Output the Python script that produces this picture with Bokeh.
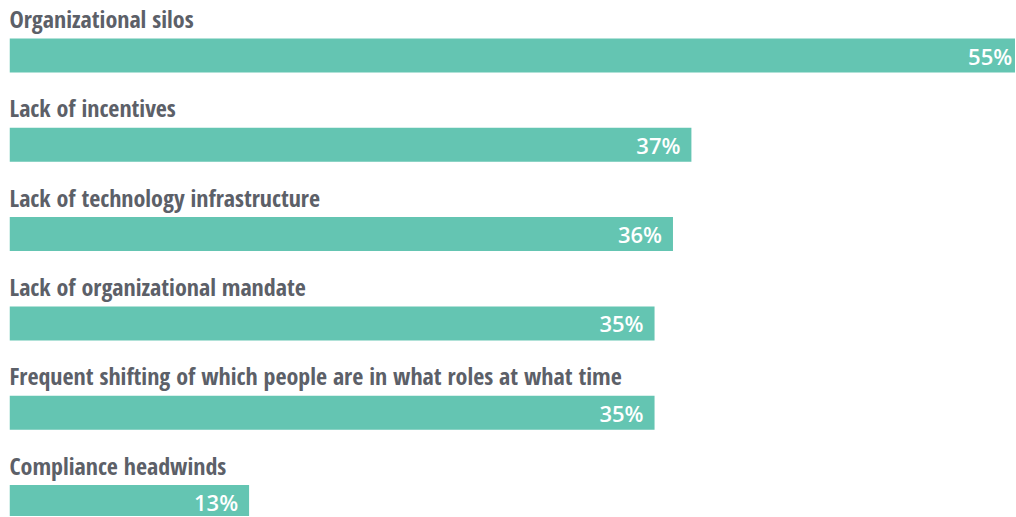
from bokeh.plotting import figure
from bokeh.models import ColumnDataSource, Range1d
from bokeh.core.properties import value
from bokeh.embed import file_html
from bokeh.resources import INLINE

categories = [
    "Organizational silos",
    "Lack of incentives",
    "Lack of technology infrastructure",
    "Lack of organizational mandate",
    "Frequent shifting of which people are in what roles at what time",
    "Compliance headwinds",
]
values = [55, 37, 36, 35, 35, 13]
value_labels = ["55%", "37%", "36%", "35%", "35%", "13%"]

rows = list(range(len(categories)))
source = ColumnDataSource(dict(row=rows, cat=categories, val=values, lab=value_labels))

row_px = 89.3
frame_h = 516
top_off = 55.0 / row_px
x_end = 1006 / 18.43

p = figure(width=1015, height=516, output_backend="svg", toolbar_location=None,
           x_range=Range1d(0, x_end),
           y_range=Range1d(-top_off + frame_h / row_px, -top_off),
           min_border_left=9, min_border_right=0, min_border_top=0, min_border_bottom=0)
p.xaxis.visible = False
p.yaxis.visible = False
p.grid.visible = False
p.outline_line_color = None
p.background_fill_color = "white"
p.border_fill_color = "white"

p.hbar(y="row", left=0, right="val", height=34 / row_px, source=source,
       fill_color="#64c5b2", line_color=None)

label_font = "'Open Sans Condensed', 'Liberation Sans Narrow', 'DejaVu Sans Condensed', 'Roboto Condensed', 'Noto Sans Condensed', Roboto"
p.text(x=0, y="row", text="cat", source=source, y_offset=-37,
       text_font=value(label_font), text_font_style="bold",
       text_font_size="24px", text_color="#5c6068", text_baseline="alphabetic",
       text_align="left")

p.text(x="val", y="row", text="lab", source=source, x_offset=-11, y_offset=0,
       text_font=value("'Open Sans SemiBold', 'Open Sans'"), text_font_style="normal",
       text_font_size="22px", text_color="white", text_baseline="alphabetic",
       text_align="right")

open("out.html", "w").write(file_html(p, INLINE))
